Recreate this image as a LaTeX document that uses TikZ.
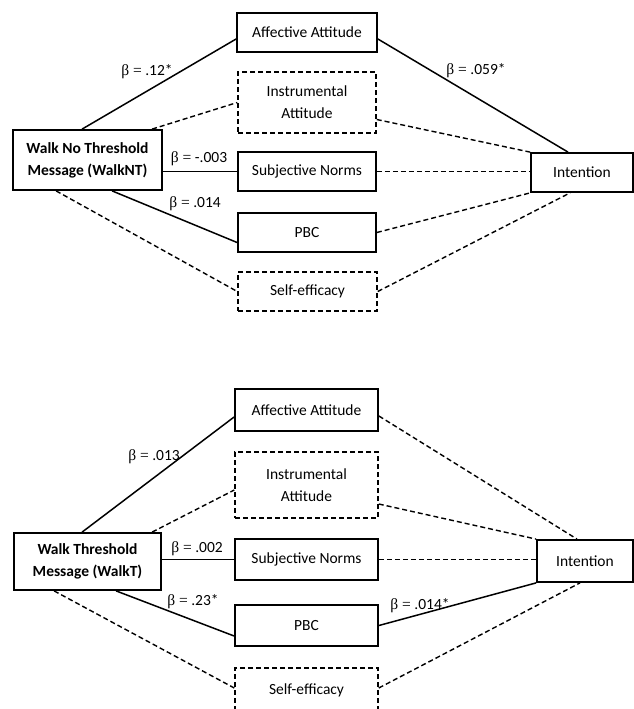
\documentclass[tikz,border=0pt]{standalone}
\usepackage{fontspec}
\setmainfont{Carlito}
\newfontfamily\grk{Liberation Serif}
\begin{document}
\begin{tikzpicture}[x=1pt, y=-1pt, font=\fontsize{15.5}{22}\selectfont,
    main/.style = {draw, line width=1.8pt, inner sep=0pt, align=center},
    nsbox/.style = {main, line width=1.5pt, dash pattern=on 5pt off 3pt},
    sig/.style = {line width=1.5pt},
    ns/.style = {line width=1.4pt, dash pattern=on 5pt off 3pt},
    lbl/.style = {inner sep=0pt}]
    \useasboundingbox (0,0) rectangle (634,709);

    % no threshold message
    \node[main, minimum width=149pt, minimum height=60pt] (wnt) at (87.5,160) {\bfseries Walk No Threshold\\\bfseries Message (WalkNT)};
    \node[main, minimum width=140pt, minimum height=39pt] (aa1) at (307,32.5) {Affective Attitude};
    \node[nsbox, minimum width=138pt, minimum height=61pt] (ia1) at (307,102.5) {Instrumental\\Attitude};
    \node[main, minimum width=138pt, minimum height=39pt] (sn1) at (307,171.5) {Subjective Norms};
    \node[main, minimum width=138pt, minimum height=39pt] (pbc1) at (307,232.5) {PBC};
    \node[nsbox, minimum width=139pt, minimum height=39pt] (se1) at (307.5,291.5) {Self-efficacy};
    \node[main, minimum width=102pt, minimum height=39pt] (int1) at (582,172.5) {Intention};

    \draw[sig] ([xshift=70pt]wnt.north west) -- ([yshift=-6.5pt]aa1.west);
    \draw[ns] ([xshift=140pt]wnt.north west) -- (ia1.west);
    \draw[sig] (wnt.east |- sn1.west) -- (sn1.west);
    \draw[sig] ([xshift=100pt]wnt.south west) -- ([yshift=-10pt]pbc1.west);
    \draw[ns] ([xshift=44pt]wnt.south west) -- (se1.west);

    \draw[sig] ([yshift=-6.5pt]aa1.east) -- ([xshift=-14pt]int1.north);
    \draw[ns] ([yshift=-17pt]ia1.east) -- (int1.north west);
    \draw[ns] (sn1.east) -- (int1.west |- sn1.east);
    \draw[ns] (pbc1.east) -- (int1.south west);
    \draw[ns] (se1.east) -- ([xshift=-12pt]int1.south);

    \node[lbl] (b1) at (147,72) {{\grk β =} .12*};
    \node[lbl] (b2) at (199,159) {{\grk β =} -.003};
    \node[lbl] (b3) at (195,204) {{\grk β =} .014};
    \node[lbl] (b4) at (476,71) {{\grk β =} .059*};

    % threshold message
    \node[main, minimum width=147pt, minimum height=57pt] (wt) at (87.5,561.5) {\bfseries Walk Threshold\\\bfseries Message (WalkT)};
    \node[main, minimum width=143pt, minimum height=42pt] (aa2) at (306.5,410) {Affective Attitude};
    \node[nsbox, minimum width=143pt, minimum height=66pt] (ia2) at (306.5,485) {Instrumental\\Attitude};
    \node[main, minimum width=143pt, minimum height=41pt] (sn2) at (306.5,559.5) {Subjective Norms};
    \node[main, minimum width=143pt, minimum height=41pt] (pbc2) at (306.5,625.5) {PBC};
    \node[nsbox, minimum width=143pt, minimum height=44pt] (se2) at (306.5,690) {Self-efficacy};
    \node[main, minimum width=96pt, minimum height=42pt] (int2) at (585,561) {Intention};

    \draw[sig] ([xshift=69pt]wt.north west) -- ([yshift=-7pt]aa2.west);
    \draw[ns] ([xshift=139pt]wt.north west) -- ([yshift=-5pt]ia2.west);
    \draw[sig] (wt.east |- sn2.west) -- (sn2.west);
    \draw[sig] ([xshift=103pt]wt.south west) -- ([yshift=-10.5pt]pbc2.west);
    \draw[ns] ([xshift=41pt]wt.south west) -- ([yshift=2pt]se2.west);

    \draw[ns] ([yshift=-6pt]aa2.east) -- ([xshift=-8pt]int2.north);
    \draw[ns] ([yshift=-19pt]ia2.east) -- (int2.north west);
    \draw[ns] (sn2.east) -- (int2.west |- sn2.east);
    \draw[sig] (pbc2.east) -- (int2.south west);
    \draw[ns] ([yshift=2pt]se2.east) -- ([xshift=-5pt]int2.south);

    \node[lbl] (b5) at (154,457) {{\grk β =} .013};
    \node[lbl] (b6) at (197,549) {{\grk β =} .002};
    \node[lbl] (b7) at (193,602) {{\grk β =} .23*};
    \node[lbl] (b8) at (420,606) {{\grk β =} .014*};
\end{tikzpicture}
\end{document}
